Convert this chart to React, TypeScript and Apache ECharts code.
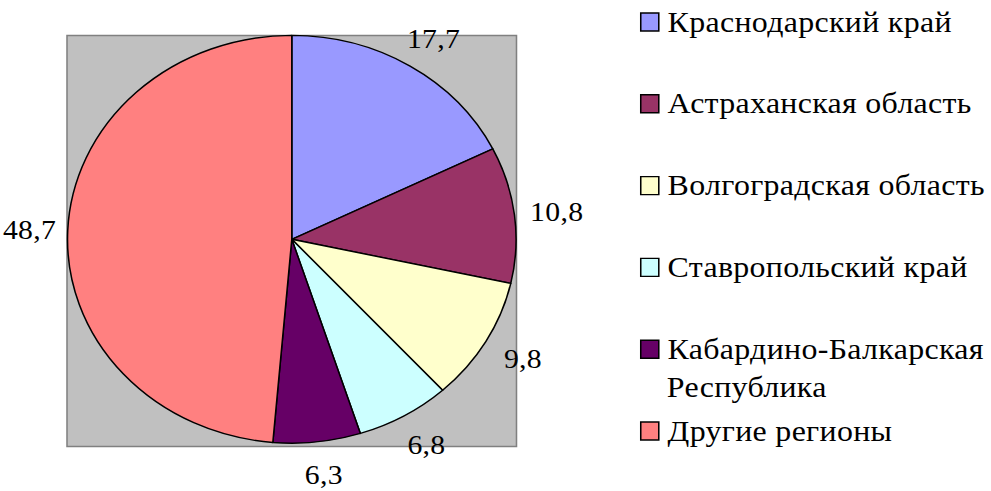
import React, { useEffect, useRef } from "react";
import * as echarts from "echarts";

const categories = [
  "Краснодарский край",
  "Астраханская область",
  "Волгоградская область",
  "Ставропольский край",
  "Кабардино-Балкарская Республика",
  "Другие регионы",
];
const values = [17.7, 10.8, 9.8, 6.8, 6.3, 48.7];
const colors = ["#9999FF", "#993366", "#FFFFCC", "#CCFFFF", "#660066", "#FF8080"];

const FONT = "Liberation Serif";
// the reference picture is stretched horizontally; reproduce with a CSS scaleX
const SX = 1.1;
const W = 991, H = 491;

export default function App() {
  const ref = useRef<HTMLDivElement>(null);

  useEffect(() => {
    document.body.style.margin = "0";
    if (!ref.current) return;
    const chart = echarts.init(ref.current, undefined, { renderer: "svg" });

    const total = values.reduce((a, b) => a + b, 0);
    const starts = values.map((_, i) => values.slice(0, i).reduce((a, b) => a + b, 0));

    // layout (unscaled coordinates)
    const CX = 291.8 / SX, CY = 239.3, R = 203.9;
    const LABEL_FX = 1.18, LABEL_FY = 1.16;
    const legendLeft = 581.8;
    const iconCenter = (i: number) => 22.5 + i * 81.8;

    const series = categories.map((name, i) => ({
      type: "custom",
      name,
      coordinateSystem: "none",
      itemStyle: { color: colors[i] },
      data: [[values[i], starts[i]]],
      renderItem: (params: any, api: any) => {
        const v = api.value(0) as number;
        const s = api.value(1) as number;
        const a0 = (s / total) * 2 * Math.PI;
        const a1 = ((s + v) / total) * 2 * Math.PI;
        const am = (a0 + a1) / 2;
        return {
          type: "group",
          children: [
            {
              type: "sector",
              shape: {
                cx: CX,
                cy: CY,
                r0: 0,
                r: R,
                startAngle: -Math.PI / 2 + a0,
                endAngle: -Math.PI / 2 + a1,
                clockwise: true,
              },
              style: { fill: api.visual("color"), stroke: "#000", lineWidth: 1.4, lineJoin: "round" },
            },
            {
              type: "text",
              x: CX + LABEL_FX * R * Math.sin(am) + 2,
              y: CY - LABEL_FY * R * Math.cos(am) + 1,
              style: {
                text: String(v).replace(".", ","),
                fill: "#000",
                fontSize: 27,
                fontFamily: FONT,
                align: "center",
                verticalAlign: "middle",
              },
            },
          ],
        };
      },
    }));

    const legend = categories.map((name, i) => ({
      data: [name],
      left: legendLeft,
      top: iconCenter(i) - 15,
      padding: 0,
      itemWidth: 16.4,
      itemHeight: 18,
      icon: "rect",
      selectedMode: false,
      itemStyle: { borderColor: "#000", borderWidth: 1.4 },
      formatter: (n: string) => n.replace(" Республика", ""),
      textStyle: {
        fontFamily: FONT,
        fontSize: 29,
        color: "#000",
        lineHeight: 18,
        padding: [0, 0, 0, 3],
      },
    }));

    chart.setOption({
      animation: false,
      backgroundColor: "#FFFFFF",
      tooltip: { show: false },
      legend,
      graphic: [
        {
          type: "rect",
          z: -10,
          shape: { x: 67 / SX, y: 35.5, width: 449.5 / SX, height: 411 },
          style: { fill: "#C0C0C0", stroke: "#808080", lineWidth: 1.4 },
        },
        {
          type: "text",
          x: legendLeft + 16.4 + 8,
          y: iconCenter(4) + 38,
          style: {
            text: "Республика",
            fill: "#000",
            fontSize: 29,
            fontFamily: FONT,
            align: "left",
            verticalAlign: "middle",
          },
        },
      ],
      series,
    });

    return () => chart.dispose();
  }, []);

  return (
    <div style={{ width: W, height: H, overflow: "hidden", background: "#fff" }}>
      <div
        ref={ref}
        style={{
          width: W / SX,
          height: H,
          transform: `scaleX(${SX})`,
          transformOrigin: "0 0",
          letterSpacing: "0.3px",
        }}
      />
    </div>
  );
}
